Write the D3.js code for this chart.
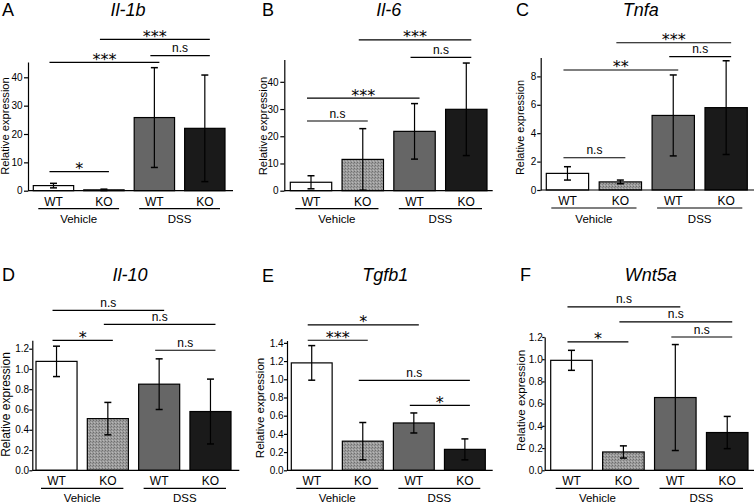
<!DOCTYPE html>
<html><head><meta charset="utf-8">
<script src="https://cdn.jsdelivr.net/npm/d3@7"></script>
<style>
body{margin:0;background:#fff;}
text{font-family:"Liberation Sans",Arial,Helvetica,sans-serif;fill:#000;}
</style></head>
<body><svg id="chart" width="756" height="502"></svg>
<script>
// ---------- data ----------
const panelLetters = ["A","B","C","D","E","F"];
const genes = ["Il-1b","Il-6","Tnfa","Il-10","Tgfb1","Wnt5a"];
const genotypes = ["WT","KO","WT","KO"];
const treatments = ["Vehicle","DSS"];
const yAxisTitle = "Relative expression";

const il1bMean = [1.8, 0.3, 25.8, 22.0];
const il1bSd   = [0.8, 0.25, 17.6, 18.8];
const il6Mean  = [3.1, 11.5, 21.8, 29.9];
const il6Sd    = [2.4, 11.3, 10.2, 17.0];
const tnfaMean = [1.17, 0.57, 5.25, 5.8];
const tnfaSd   = [0.47, 0.13, 2.85, 3.3];
const il10Mean = [1.075, 0.51, 0.85, 0.58];
const il10Sd   = [0.15, 0.16, 0.25, 0.32];
const tgfb1Mean= [1.18, 0.32, 0.52, 0.23];
const tgfb1Sd  = [0.19, 0.205, 0.11, 0.115];
const wnt5aMean= [0.99, 0.165, 0.655, 0.34];
const wnt5aSd  = [0.09, 0.055, 0.477, 0.145];

const il1bTicks = [0,10,20,30,40];
const il6Ticks  = [0,10,20,30,40];
const tnfaTicks = [0,2,4,6,8];
const il10Ticks = [0,0.2,0.4,0.6,0.8,1.0,1.2];
const tgfb1Ticks= [0,0.2,0.4,0.6,0.8,1.0,1.2,1.4];
const wnt5aTicks= [0,0.2,0.4,0.6,0.8,1.0,1.2];

// significance brackets: [from bar, to bar, label, height in data units]
const il1bSig = [[0,1,"*",6.7],[0,2,"***",45.3],[2,3,"n.s",47.65],[1,3,"***",53.4]];
const il6Sig  = [[0,1,"n.s",25.6],[0,2,"***",34.0],[2,3,"n.s",49.0],[1,3,"***",55.4]];
const tnfaSig = [[0,1,"n.s",2.27],[0,2,"**",8.45],[2,3,"n.s",9.39],[1,3,"***",10.37]];
const il10Sig = [[0,1,"*",1.283],[0,2,"n.s",1.579],[1,3,"n.s",1.441],[2,3,"n.s",1.185]];
const tgfb1Sig= [[0,2,"*",1.597],[0,1,"***",1.429],[1,3,"n.s",0.989],[2,3,"*",0.714]];
const wnt5aSig= [[0,2,"n.s",1.471],[1,3,"n.s",1.336],[2,3,"n.s",1.2],[0,1,"*",1.156]];

// ---------- layout (positions / styles) ----------
const layout = [
 {mean:il1bMean, sd:il1bSd, ticks:il1bTicks, sig:il1bSig, fmt:"d", yMax:45.4, axisX:28, base:190.7, top:62, bar0:33.3, bar1:225, xEnd:233, tSize:4, tPad:1.5, titleX:128, titleY:16, letterX:2, letterY:16, labX:5.5, labY:126, labSize:11.2},
 {mean:il6Mean, sd:il6Sd, ticks:il6Ticks, sig:il6Sig, fmt:"d", yMax:48.2, axisX:284.3, base:190.7, top:59.5, bar0:290.3, bar1:487, xEnd:492.7, tSize:4, tPad:1.8, titleX:388.7, titleY:16, letterX:262, letterY:16, labX:263, labY:126, labSize:11.3},
 {mean:tnfaMean, sd:tnfaSd, ticks:tnfaTicks, sig:tnfaSig, fmt:"d", yMax:9.33, axisX:540.7, base:190, top:57.5, bar0:546.3, bar1:747.3, xEnd:754, tSize:3.5, tPad:1, titleX:640.7, titleY:16, letterX:516, letterY:16, labX:520, labY:127.5, labSize:10.9},
 {mean:il10Mean, sd:il10Sd, ticks:il10Ticks, sig:il10Sig, fmt:".1f", yMax:1.283, axisX:32.3, base:470.3, top:340.3, bar0:36, bar1:231, xEnd:239.3, tSize:3, tPad:0.2, titleX:130, titleY:281, letterX:2, letterY:281, labX:6, labY:404.5, labSize:12},
 {mean:tgfb1Mean, sd:tgfb1Sd, ticks:tgfb1Ticks, sig:tgfb1Sig, fmt:".1f", yMax:1.426, axisX:287, base:470.3, top:340.5, bar0:291.3, bar1:485.3, xEnd:492.7, tSize:3, tPad:0.4, titleX:385.3, titleY:281, letterX:262, letterY:282, labX:259.5, labY:408, labSize:11.5},
 {mean:wnt5aMean, sd:wnt5aSd, ticks:wnt5aTicks, sig:wnt5aSig, fmt:".1f", yMax:1.2, axisX:544.7, base:470.3, top:337, bar0:550.7, bar1:748, xEnd:754, tSize:2.5, tPad:-0.5, titleX:650.7, titleY:281, letterX:520, letterY:281, labX:520.7, labY:400.5, labSize:11.6}
];

const svg = d3.select("#chart");
const defs = svg.append("defs");
const pat = defs.append("pattern").attr("id","koPat").attr("patternUnits","userSpaceOnUse")
  .attr("width",3).attr("height",3);
pat.append("rect").attr("width",3).attr("height",3).attr("fill","#9c9c9c");
pat.append("rect").attr("x",0).attr("y",0).attr("width",1).attr("height",1).attr("fill","#6e6e6e");
pat.append("rect").attr("x",2).attr("y",1).attr("width",1).attr("height",1).attr("fill","#808080");
pat.append("rect").attr("x",1).attr("y",2).attr("width",1).attr("height",1).attr("fill","#b8b8b8");

const fills = ["#ffffff","url(#koPat)","#666666","#1a1a1a"];
const SW = 1.2;

layout.forEach((L, p) => {
  const g = svg.append("g");
  const y = d3.scaleLinear().domain([0, L.yMax]).range([L.base, L.top]);
  const x = d3.scaleBand().domain(d3.range(genotypes.length)).range([L.bar0, L.bar1]).paddingInner(0.2).paddingOuter(0);
  const bw = x.bandwidth();
  const cx = i => x(i) + bw/2;

  // panel letter & title
  g.append("text").attr("x", L.letterX).attr("y", L.letterY).attr("font-size", 18).text(panelLetters[p]);
  g.append("text").attr("x", L.titleX).attr("y", L.titleY).attr("font-size", 18).attr("font-style","italic")
    .attr("text-anchor","middle").text(genes[p]);

  // bars
  g.selectAll("rect.bar").data(L.mean).join("rect").attr("class","bar")
    .attr("x",(d,i)=>x(i)).attr("width",bw)
    .attr("y",d=>y(d)).attr("height",d=>L.base - y(d))
    .attr("fill",(d,i)=>fills[i]).attr("stroke","#000").attr("stroke-width",SW);

  // error bars
  L.mean.forEach((m,i)=>{
    const lo = Math.max(0, m - L.sd[i]), hi = m + L.sd[i];
    const c = cx(i);
    g.append("line").attr("x1",c).attr("x2",c).attr("y1",y(lo)).attr("y2",y(hi))
      .attr("stroke","#000").attr("stroke-width",SW);
    [lo,hi].forEach(v=>{
      g.append("line").attr("x1",c-3.5).attr("x2",c+3.5).attr("y1",y(v)).attr("y2",y(v))
        .attr("stroke","#000").attr("stroke-width",SW+0.3);
    });
  });

  // y axis
  const ax = g.append("g").attr("transform",`translate(${L.axisX},0)`)
    .call(d3.axisLeft(y).tickValues(L.ticks).tickFormat(d3.format(L.fmt)).tickSize(L.tSize).tickPadding(L.tPad).tickSizeOuter(0));
  ax.select(".domain").attr("stroke","#000").attr("stroke-width",SW);
  ax.selectAll(".tick line").attr("stroke","#000").attr("stroke-width",SW);
  ax.selectAll(".tick text").attr("font-size",10).attr("font-family","Liberation Sans, Arial, sans-serif").attr("fill","#000");

  // x baseline
  g.append("line").attr("x1",L.axisX).attr("x2",L.xEnd).attr("y1",L.base).attr("y2",L.base)
    .attr("stroke","#000").attr("stroke-width",SW);

  // y title
  g.append("text").attr("transform",`translate(${L.labX},${L.labY}) rotate(-90)`)
    .attr("text-anchor","middle").attr("dy","0.35em").attr("font-size",L.labSize).text(yAxisTitle);

  // genotype labels
  genotypes.forEach((t,i)=>{
    g.append("text").attr("x",cx(i)).attr("y",L.base+15).attr("text-anchor","middle")
      .attr("font-size",12).text(t);
  });
  // treatment underlines + labels
  treatments.forEach((t,k)=>{
    const a = x(2*k) + 5, b = x(2*k+1) + bw - 5;
    g.append("line").attr("x1",a).attr("x2",b).attr("y1",L.base+18).attr("y2",L.base+18)
      .attr("stroke","#000").attr("stroke-width",SW);
    g.append("text").attr("x",(a+b)/2).attr("y",Math.min(L.base+32.5, 501.5)).attr("text-anchor","middle")
      .attr("font-size",11.5).text(t);
  });

  // significance brackets
  L.sig.forEach(([i,j,lab,h])=>{
    const a = cx(i) - 4, b = cx(j) + 5, yy = y(h);
    g.append("line").attr("x1",a).attr("x2",b).attr("y1",yy).attr("y2",yy)
      .attr("stroke","#000").attr("stroke-width",SW);
    const isStar = lab.indexOf("*") >= 0;
    g.append("text").attr("x",(a+b)/2).attr("y", isStar ? yy + 2.5 : yy - 3.5)
      .attr("text-anchor","middle")
      .attr("font-size", isStar ? 16 : 12)
      .style("font-family", isStar ? "DejaVu Sans, sans-serif" : null)
      .text(lab);
  });
});
</script></body></html>
